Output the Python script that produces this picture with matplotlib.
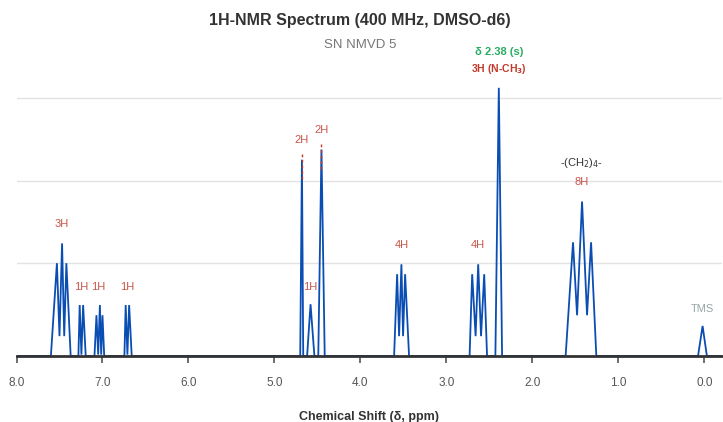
import numpy as np
import matplotlib.pyplot as plt

plt.rcParams['font.family'] = ['Liberation Sans', 'DejaVu Sans']

# multiplets: line shape points (ppm, relative intensity, singlet = 100)
ar_3h_ppm = [7.60, 7.53, 7.50, 7.47, 7.445, 7.42, 7.37]
ar_3h_int = [0, 34.6, 7.4, 42.0, 7.4, 34.6, 0]
ar_1h_a_ppm = [7.28, 7.265, 7.245, 7.225, 7.195]
ar_1h_a_int = [0, 19.0, 0.5, 19.0, 0]
ar_1h_b_ppm = [7.093, 7.07, 7.05, 7.03, 7.015, 7.00, 6.98]
ar_1h_b_int = [0, 15.2, 0.5, 19.0, 0.5, 15.2, 0]
ar_1h_c_ppm = [6.745, 6.73, 6.71, 6.69, 6.66]
ar_1h_c_int = [0, 19.0, 0.5, 19.0, 0]
ch2_a_ppm = [4.70, 4.68, 4.665]
ch2_a_int = [0, 73.2, 0]
ch_ppm = [4.62, 4.58, 4.535]
ch_int = [0, 19.3, 0]
ch2_b_ppm = [4.49, 4.453, 4.415]
ch2_b_int = [0, 77.0, 0]
m4h_a_ppm = [3.608, 3.573, 3.55, 3.523, 3.504, 3.48, 3.434]
m4h_a_int = [0, 30.5, 7.4, 34.2, 7.4, 30.5, 0]
m4h_b_ppm = [2.73, 2.70, 2.66, 2.63, 2.597, 2.56, 2.527]
m4h_b_int = [0, 30.5, 7.4, 34.2, 7.4, 30.5, 0]
nme_ppm = [2.43, 2.39, 2.352]
nme_int = [0, 100.0, 0]
ch2x4_ppm = [1.613, 1.527, 1.48, 1.422, 1.364, 1.317, 1.256]
ch2x4_int = [0, 42.4, 15.2, 57.6, 15.2, 42.4, 0]
tms_ppm = [0.073, 0.02, -0.03]
tms_int = [0, 11.2, 0]

multiplets = [
    (ar_1h_a_ppm, ar_1h_a_int), (ar_3h_ppm, ar_3h_int), (ar_1h_b_ppm, ar_1h_b_int),
    (ar_1h_c_ppm, ar_1h_c_int), (ch2_a_ppm, ch2_a_int), (ch_ppm, ch_int),
    (ch2_b_ppm, ch2_b_int), (m4h_a_ppm, m4h_a_int), (m4h_b_ppm, m4h_b_int),
    (nme_ppm, nme_int), (ch2x4_ppm, ch2x4_int), (tms_ppm, tms_int),
]

# integration labels (ppm, height, text)
int_labels = [(7.47, 47.5, '3H'), (7.245, 24.0, '1H'), (7.05, 24.0, '1H'),
              (6.71, 24.0, '1H'), (4.68, 78.5, '2H'), (4.58, 24.0, '1H'),
              (4.453, 82.5, '2H'), (3.523, 39.5, '4H'), (2.63, 39.5, '4H'),
              (1.422, 63.0, '8H')]

grid_levels = [34.6, 65.4, 96.3]
xticks = [8.0, 7.0, 6.0, 5.0, 4.0, 3.0, 2.0, 1.0, 0.0]

blue = '#0a4db3'
red = '#c0392b'

fig = plt.figure(figsize=(7.23, 4.22), dpi=100)
ax = fig.add_axes([16.5 / 723, 66 / 422, (721.5 - 16.5) / 723, 295 / 422])

# build a single trace with flat baseline between multiplets
xs, ys = [8.0], [0.0]
for p, i in sorted(multiplets, key=lambda m: -m[0][0]):
    xs += p
    ys += i
xs.append(-0.2)
ys.append(0.0)
ax.plot(xs, ys, color=blue, lw=1.3, solid_joinstyle='miter', zorder=3)

for lv in grid_levels:
    ax.axhline(lv, color='#e3e3e3', lw=1, zorder=1)

ax.set_xlim(8.0, -0.2)
ax.set_ylim(0, 110)
ax.set_yticks([])
for s in ['top', 'right', 'left']:
    ax.spines[s].set_visible(False)
ax.spines['bottom'].set_color('#333333')
ax.spines['bottom'].set_linewidth(2)
ax.spines['bottom'].set_zorder(4)
ax.set_xticks(xticks)
ax.set_xticklabels([f'{t:.1f}' for t in xticks], fontsize=8.5, color='#555555')
ax.tick_params(axis='x', direction='out', length=5, width=1.2, color='#555555', pad=10)
ax.set_xlabel('Chemical Shift (δ, ppm)', fontsize=9, fontweight='bold', color='#333333',
              labelpad=16)

for x, y, t in int_labels:
    ax.text(x, y, t, ha='center', va='bottom', fontsize=8, color=red, alpha=0.85,
            clip_on=False)

# connectors over the CH2 peaks
for x, top in [(4.68, 73.2), (4.453, 77.0)]:
    ax.plot([x, x], [top + 2, top - 8], color=red, lw=1, ls=(0, (2, 2)), zorder=4)

ax.text(2.39, 111.5, 'δ 2.38 (s)', ha='center', va='bottom', fontsize=8, color='#27ae60',
        fontweight='bold', clip_on=False)
ax.text(2.39, 104.5, '3H (N-CH$_\\mathbf{3}$)', ha='center', va='bottom', fontsize=7.5,
        color=red, fontweight='bold', clip_on=False)
ax.text(1.422, 69.5, '-(CH$_2$)$_4$-', ha='center', va='bottom', fontsize=8,
        color='#333333', clip_on=False)
ax.text(0.02, 15.5, 'TMS', ha='center', va='bottom', fontsize=8, color='#95a5a6',
        clip_on=False)

fig.text(0.498, 1 - 20 / 422, '1H-NMR Spectrum (400 MHz, DMSO-d6)', ha='center',
         va='center', fontsize=11.5, fontweight='bold', color='#333333')
fig.text(0.498, 1 - 45 / 422, 'SN NMVD 5', ha='center', va='center', fontsize=9.5,
         color='#777777')

fig.savefig('out.png', dpi=100)
